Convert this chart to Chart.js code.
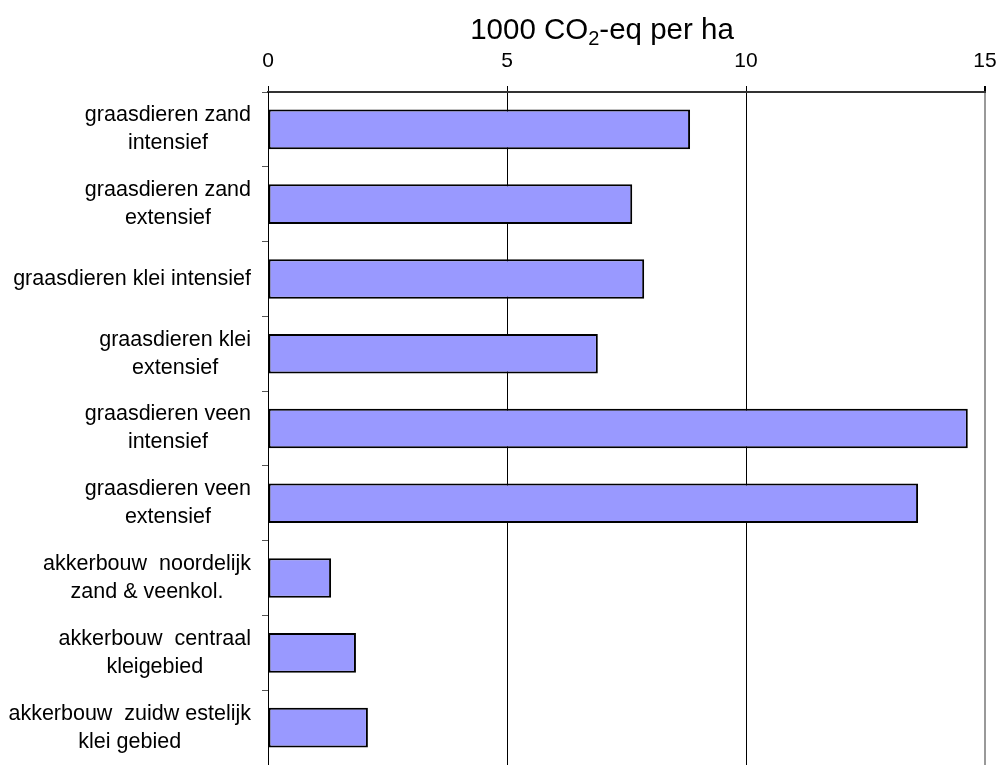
<!DOCTYPE html>
<html>
<head>
<meta charset="utf-8">
<script src="https://cdn.jsdelivr.net/npm/chart.js@4/dist/chart.umd.min.js"></script>
<style>
  html, body { margin: 0; padding: 0; background: #fff; }
  #wrap { width: 1001px; height: 765px; }
</style>
</head>
<body>
<div id="wrap"><canvas id="c"></canvas></div>
<script>
// categorieën (regels zoals in de figuur)
const categories = [
  ['graasdieren zand', 'intensief'],
  ['graasdieren zand', 'extensief'],
  ['graasdieren klei intensief'],
  ['graasdieren klei', 'extensief'],
  ['graasdieren veen', 'intensief'],
  ['graasdieren veen', 'extensief'],
  ['akkerbouw  noordelijk', 'zand & veenkol.'],
  ['akkerbouw  centraal', 'kleigebied'],
  ['akkerbouw  zuidw estelijk', 'klei gebied']
];
// 1000 CO2-eq per ha
const values = [8.83, 7.62, 7.87, 6.9, 14.64, 13.6, 1.32, 1.84, 2.09];
const xTicks = [0, 5, 10, 15];

const FONT = '"Liberation Sans", Arial, sans-serif';

// eigen tekenwerk: categorielabels (regels gecentreerd t.o.v. elkaar) en titel met subscript
const labelPlugin = {
  id: 'labels',
  afterDraw(chart) {
    const ctx = chart.ctx;
    const y = chart.scales.y;
    const area = chart.chartArea;
    ctx.save();
    ctx.fillStyle = '#000';
    ctx.font = '21.5px ' + FONT;
    ctx.textBaseline = 'middle';
    ctx.textAlign = 'center';
    const right = area.left - 17;
    const lh = 28;
    categories.forEach((lines, i) => {
      const cy = y.getPixelForValue(i);
      const w = Math.max(...lines.map(l => ctx.measureText(l).width));
      const cx = right - w / 2;
      const y0 = cy - (lines.length - 1) * lh / 2;
      lines.forEach((l, j) => ctx.fillText(l, cx, y0 + j * lh));
    });

    // titel
    const big = '29.5px ' + FONT, small = '20px ' + FONT;
    const parts = [['1000 CO', big, 0], ['2', small, 6], ['-eq per ha', big, 0]];
    let total = 0;
    parts.forEach(p => { ctx.font = p[1]; total += ctx.measureText(p[0]).width; });
    let x = 602 - total / 2;
    ctx.textAlign = 'left';
    ctx.textBaseline = 'alphabetic';
    parts.forEach(p => {
      ctx.font = p[1];
      ctx.fillText(p[0], x, 39 + p[2]);
      x += ctx.measureText(p[0]).width;
    });
    ctx.restore();
  }
};

new Chart(document.getElementById('c'), {
  type: 'bar',
  data: {
    labels: categories,
    datasets: [{
      data: values,
      backgroundColor: '#9999FF',
      borderColor: '#000',
      borderWidth: 2,
      borderSkipped: false,
      categoryPercentage: 1,
      barPercentage: 0.53
    }]
  },
  options: {
    indexAxis: 'y',
    responsive: true,
    maintainAspectRatio: false,
    animation: false,
    layout: { padding: { left: 0, right: 16, top: 0, bottom: 0 } },
    plugins: {
      legend: { display: false },
      tooltip: { enabled: false },
      title: { display: false }
    },
    scales: {
      x: {
        position: 'top',
        min: 0,
        max: 15,
        afterBuildTicks(scale) {
          scale.ticks = xTicks.map(v => ({ value: v }));
        },
        afterFit(scale) {
          scale.height = 92;
          scale.paddingLeft = 0;
          scale.paddingRight = 0;
        },
        ticks: {
          color: '#000',
          font: { family: FONT, size: 21 },
          padding: 12,
          maxRotation: 0
        },
        grid: {
          color: ctx => (ctx.tick && ctx.tick.value === 15 ? '#999' : '#000'),
          lineWidth: ctx => (ctx.tick && ctx.tick.value === 15 ? 2 : 1),
          tickLength: 6,
          tickColor: '#000'
        },
        border: { color: '#333', width: 2 }
      },
      y: {
        afterFit(scale) { scale.width = 268; },
        ticks: { display: false },
        grid: {
          offset: true,
          drawOnChartArea: false,
          tickLength: 6,
          color: '#555'
        },
        border: { color: '#000', width: 1 }
      }
    }
  },
  plugins: [labelPlugin]
});
</script>
</body>
</html>
